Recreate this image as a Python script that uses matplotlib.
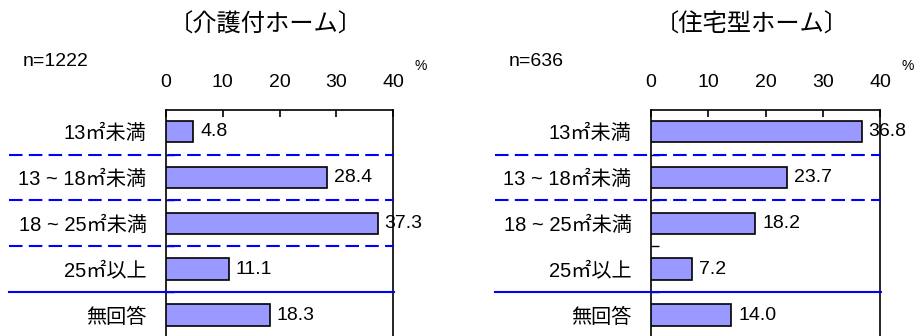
import matplotlib
matplotlib.use("Agg")

import matplotlib.pyplot as plt

plt.rcParams["font.family"] = ["Liberation Sans", "Noto Sans CJK JP", "DejaVu Sans"]

# ==========================================
# Data
# ==========================================

categories = ["13㎡未満", "13 ~ 18㎡未満", "18 ~ 25㎡未満", "25㎡以上", "無回答"]

left_title = "〔介護付ホーム〕"
left_n = "n=1222"
left_values = [4.8, 28.4, 37.3, 11.1, 18.3]

right_title = "〔住宅型ホーム〕"
right_n = "n=636"
right_values = [36.8, 23.7, 18.2, 7.2, 14.0]

x_ticks = [0, 10, 20, 30, 40]

# separator style between categories (None = no line)
left_seps = ["dashed", "dashed", "dashed", "solid"]
right_seps = ["dashed", "dashed", None, "solid"]

BAR_COLOR = "#9999FF"
SEP_COLOR = "#0000FF"
W, H = 914, 336

fig = plt.figure(figsize=(W / 100, H / 100), dpi=100)


def px_axes(left, top, width, height):
    return fig.add_axes([left / W, 1 - (top + height) / H, width / W, height / H])


def draw_panel(ax, values, seps, title, n_label, ax_left_px):
    pos = list(range(len(categories)))
    ax.barh(pos, values, height=0.47, color=BAR_COLOR,
            edgecolor="black", linewidth=1.2, zorder=3)

    for p, v in zip(pos, values):
        ax.text(v + 1.2, p, f"{v:.1f}", ha="left", va="center", fontsize=14)

    ax.set_xlim(0, 40)
    ax.set_ylim(4.53, -0.47)

    ax.set_xticks(x_ticks)
    ax.xaxis.tick_top()
    ax.tick_params(axis="x", direction="in", length=5, width=1.2,
                   labelsize=14, pad=14)

    ax.set_yticks(pos)
    ax.set_yticklabels(categories)
    ax.tick_params(axis="y", which="major", length=0, labelsize=14.5, pad=14)
    ax.set_yticks([p + 0.5 for p in pos], minor=True)
    ax.tick_params(axis="y", which="minor", direction="in", length=6, width=1)

    for spine in ax.spines.values():
        spine.set_linewidth(1.2)

    # separators across label area and plot
    trans = ax.get_yaxis_transform()
    x0 = (ax_left_px[0] - ax_left_px[1]) / ax_left_px[2]
    for i, style in enumerate(seps):
        if style is None:
            continue
        line, = ax.plot([x0, 1.005], [i + 0.5, i + 0.5], transform=trans,
                        color=SEP_COLOR, linewidth=1.5, clip_on=False, zorder=4)
        if style == "dashed":
            line.set_dashes((6.5, 3))

    ax.text(0.44, 1.0 + 85 / 229.5, title, transform=ax.transAxes,
            ha="center", va="center", fontsize=17.5)
    ax.text(x0 + 0.06, 1.0 + 48 / 229.5, n_label, transform=ax.transAxes,
            ha="left", va="center", fontsize=14)
    ax.text(1.12, 1.0 + 44 / 229.5, "%", transform=ax.transAxes,
            ha="center", va="center", fontsize=10)


ax1 = px_axes(166, 110, 227, 229.5)
draw_panel(ax1, left_values, left_seps, left_title, left_n, (9, 166, 227))

ax2 = px_axes(651, 110, 229, 229.5)
draw_panel(ax2, right_values, right_seps, right_title, right_n, (495, 651, 229))

fig.savefig("out.png", dpi=100)
